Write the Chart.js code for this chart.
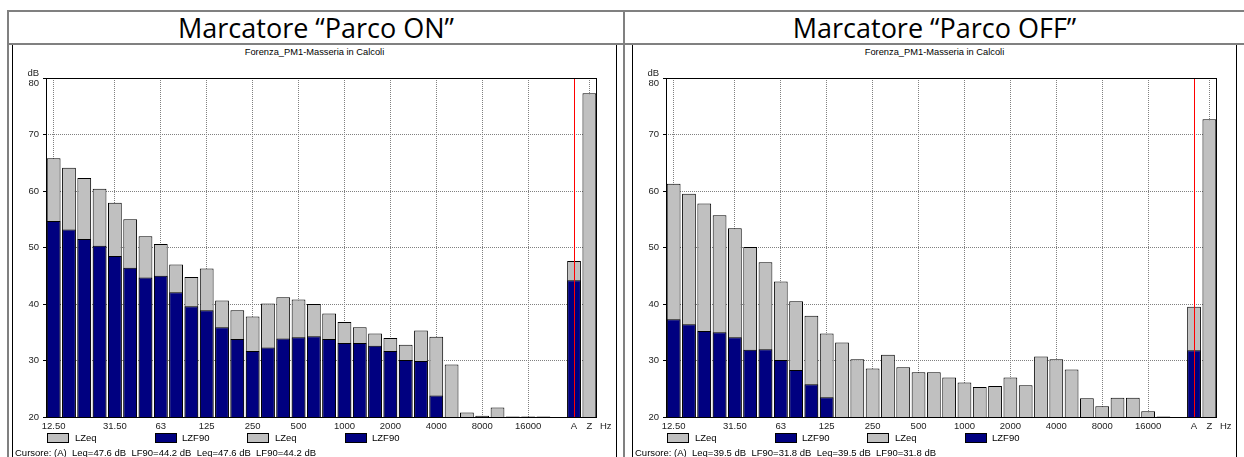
<!DOCTYPE html>
<html>
<head>
<meta charset="utf-8">
<script src="https://cdn.jsdelivr.net/npm/chart.js@4/dist/chart.umd.min.js"></script>
<style>
  html, body { margin: 0; padding: 0; background: #fff; overflow: hidden; }
  #page { position: relative; width: 1244px; height: 457px; font-family: "Liberation Sans", Arial, sans-serif; color: #000; }
  .gl { position: absolute; background: #808080; }
  .title { position: absolute; top: 12px; height: 31px; line-height: 31px; text-align: center; font-family: "Open Sans", "Noto Sans", sans-serif; font-size: 27px; }
  .panel { position: absolute; top: 45px; width: 603px; height: 420px; border-left: 1px solid #000; border-right: 1px solid #000; }
  .panel .wrap { position: absolute; left: 0; top: 1px; width: 603px; height: 390px; }
  .sub { position: absolute; left: 0; top: 2px; width: 603px; text-align: center; font-size: 9.3px; line-height: 10px; }
  .hz { position: absolute; left: 587px; top: 376px; font-size: 9.5px; line-height: 10px; color: #222; }
  .lbox { position: absolute; top: 388px; width: 20px; height: 8px; border: 1px solid #000; }
  .ltxt { position: absolute; top: 388px; font-size: 9.5px; line-height: 10px; }
  .cur { position: absolute; left: 2px; top: 403px; font-size: 9.5px; line-height: 10px; white-space: pre; }
</style>
</head>
<body>
<div id="page">
  <div class="gl" style="left:7px;top:10px;width:1237px;height:2px"></div>
  <div class="gl" style="left:7px;top:43px;width:1237px;height:2px"></div>
  <div class="gl" style="left:7px;top:10px;width:2px;height:447px"></div>
  <div class="gl" style="left:623px;top:10px;width:2px;height:447px"></div>
  <div class="title" style="left:9px;width:614px">Marcatore “Parco ON”</div>
  <div class="title" style="left:625px;width:619px">Marcatore “Parco OFF”</div>
  <div class="panel" id="p0" style="left:12px"></div>
  <div class="panel" id="p1" style="left:632px"></div>
</div>
<script>
// 1/3 octave bands, a blank slot, then the A and Z totals
const bands = ['12.50', '16', '20', '25', '31.50', '40', '50', '63', '80', '100', '125', '160',
  '200', '250', '315', '400', '500', '630', '800', '1000', '1250', '1600', '2000', '2500',
  '3150', '4000', '5000', '6300', '8000', '10000', '12500', '16000', '20000', '', 'A', 'Z'];
const shownTicks = ['12.50', '31.50', '63', '125', '250', '500', '1000', '2000', '4000', '8000', '16000', 'A', 'Z'];
const yTicks = [20, 30, 40, 50, 60, 70, 80];

const onLeq = [65.8, 64.1, 62.3, 60.4, 57.9, 55.0, 52.0, 50.6, 47.0, 44.8, 46.3, 40.6,
  38.9, 37.8, 40.1, 41.2, 40.8, 40.0, 38.3, 36.8, 35.9, 34.8, 34.0, 32.8,
  35.3, 34.2, 29.3, 20.8, 20.2, 21.7, 20.1, 20.1, 20.1, null, 47.6, 77.3];
const onL90 = [54.7, 53.2, 51.5, 50.3, 48.5, 46.4, 44.7, 45.0, 42.1, 39.6, 38.9, 35.9,
  33.8, 31.7, 32.3, 33.9, 34.1, 34.3, 33.8, 33.1, 33.1, 32.6, 31.7, 30.1,
  29.9, 23.8, null, null, null, null, null, null, null, null, 44.2, null];

const offLeq = [61.3, 59.5, 57.8, 55.7, 53.4, 50.1, 47.4, 44.0, 40.5, 37.9, 34.8, 33.2,
  30.2, 28.6, 31.0, 28.8, 27.9, 27.9, 27.0, 26.1, 25.3, 25.5, 27.0, 25.6,
  30.7, 30.2, 28.4, 23.3, 21.9, 23.4, 23.4, 21.0, 20.1, null, 39.5, 72.7];
const offL90 = [37.3, 36.4, 35.2, 35.0, 34.1, 31.9, 32.0, 30.1, 28.3, 25.8, 23.5, null,
  null, null, null, null, null, null, null, null, null, null, null, null,
  null, null, null, null, null, null, null, null, null, null, 31.8, null];

const panels = [
  { id: 'p0', leq: onLeq, l90: onL90, cursor: 'Cursore: (A)  Leq=47.6 dB  LF90=44.2 dB  Leq=47.6 dB  LF90=44.2 dB' },
  { id: 'p1', leq: offLeq, l90: offL90, cursor: 'Cursore: (A)  Leq=39.5 dB  LF90=31.8 dB  Leq=39.5 dB  LF90=31.8 dB' }
];

const GREY = '#c0c0c0';
const NAVY = '#000080';

// red cursor line on "A" and the black frame round the plot
const frameAndCursor = {
  id: 'frameAndCursor',
  afterDatasetsDraw(chart) {
    const { ctx, chartArea: a, scales: { x } } = chart;
    const cx = Math.round(x.getPixelForValue(bands.indexOf('A'))) + 0.5;
    ctx.save();
    ctx.lineWidth = 1;
    ctx.strokeStyle = '#ff0000';
    ctx.beginPath();
    ctx.moveTo(cx, a.top);
    ctx.lineTo(cx, a.bottom);
    ctx.stroke();
    ctx.strokeStyle = '#000';
    ctx.strokeRect(a.left + 0.5, a.top + 0.5, a.right - a.left - 1, a.bottom - a.top);
    ctx.restore();
  }
};

function buildPanel(p) {
  const el = document.getElementById(p.id);
  el.innerHTML =
    '<div class="sub">Forenza_PM1-Masseria in Calcoli</div>' +
    '<div class="wrap"><canvas></canvas></div>' +
    '<div class="hz">Hz</div>' +
    '<div class="lbox" style="left:34px;background:' + GREY + '"></div><div class="ltxt" style="left:62px">LZeq</div>' +
    '<div class="lbox" style="left:142px;background:' + NAVY + '"></div><div class="ltxt" style="left:169px">LZF90</div>' +
    '<div class="lbox" style="left:234px;background:' + GREY + '"></div><div class="ltxt" style="left:262px">LZeq</div>' +
    '<div class="lbox" style="left:332px;background:' + NAVY + '"></div><div class="ltxt" style="left:359px">LZF90</div>' +
    '<div class="cur"></div>';
  el.querySelector('.cur').textContent = p.cursor;

  const ctx = el.querySelector('canvas');
  new Chart(ctx, {
    type: 'bar',
    data: {
      labels: bands,
      datasets: [
        {
          label: 'LZF90',
          data: p.l90,
          backgroundColor: NAVY,
          borderColor: '#000',
          borderWidth: 1,
          grouped: false,
          order: 0,
          barPercentage: 0.9,
          categoryPercentage: 1
        },
        {
          label: 'LZeq',
          data: p.leq,
          backgroundColor: GREY,
          borderColor: '#000',
          borderWidth: 1,
          grouped: false,
          order: 1,
          barPercentage: 0.9,
          categoryPercentage: 1
        }
      ]
    },
    options: {
      responsive: true,
      maintainAspectRatio: false,
      animation: false,
      events: [],
      layout: { padding: { left: 0, right: 19, top: 32, bottom: 0 } },
      plugins: { legend: { display: false }, tooltip: { enabled: false } },
      scales: {
        x: {
          afterFit: (s) => { s.height = 19; },
          grid: {
            offset: false,
            drawTicks: false,
            color: (c) => {
              const l = bands[c.index];
              return (shownTicks.includes(l) && l !== 'A') ? '#808080' : 'rgba(0,0,0,0)';
            }
          },
          border: { display: false, dash: [1, 1] },
          ticks: {
            autoSkip: false,
            maxRotation: 0,
            minRotation: 0,
            padding: 4,
            color: '#222',
            font: { family: 'Liberation Sans', size: 9.5 },
            callback: (value, index) => shownTicks.includes(bands[index]) ? bands[index] : ''
          }
        },
        y: {
          min: 20,
          max: 80,
          afterFit: (s) => { s.width = 33; },
          afterBuildTicks: (s) => { s.ticks = yTicks.map(v => ({ value: v })); },
          grid: { color: '#808080', tickLength: 3, tickColor: '#000' },
          border: { display: false, dash: [1, 1] },
          ticks: {
            padding: 4,
            color: '#222',
            font: { family: 'Liberation Sans', size: 9.5, lineHeight: 1.05 },
            callback: (v) => v === 80 ? ['dB', '80'] : String(v)
          }
        }
      }
    },
    plugins: [frameAndCursor]
  });
}

window.addEventListener('DOMContentLoaded', () => {
  panels.forEach(buildPanel);
});
</script>
</body>
</html>
